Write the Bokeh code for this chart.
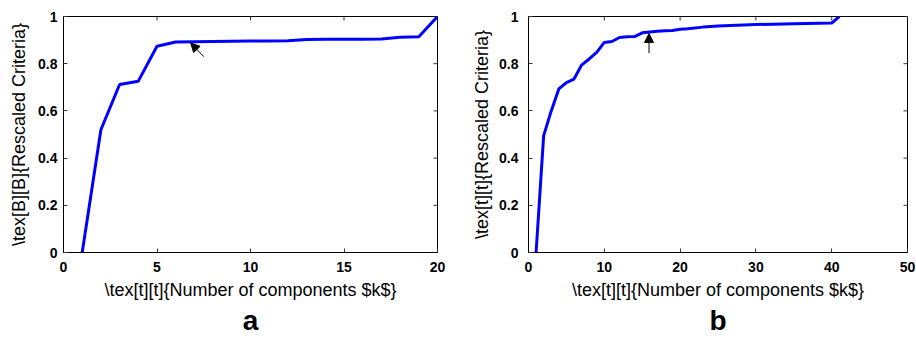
from bokeh.plotting import figure
from bokeh.layouts import row
from bokeh.models import (Range1d, FixedTicker, CustomJSTickFormatter,
                          Arrow, NormalHead, Title)
from bokeh.embed import file_html
from bokeh.resources import INLINE

# ---- data ----
k_a = list(range(1, 21))
crit_a = [0.0, 0.52, 0.712, 0.726, 0.874, 0.892, 0.893, 0.894, 0.895, 0.896,
          0.896, 0.897, 0.903, 0.904, 0.904, 0.904, 0.905, 0.912, 0.914, 1.0]

k_b = [1, 2, 3, 4, 5, 6, 7, 8, 9, 10, 11, 12, 13, 14, 15, 16, 17, 18, 19, 20,
       21, 23, 25, 30, 35, 40, 41]
crit_b = [0.0, 0.495, 0.60, 0.693, 0.72, 0.735, 0.794, 0.82, 0.848, 0.89, 0.894,
          0.911, 0.914, 0.915, 0.931, 0.934, 0.937, 0.94, 0.941, 0.946, 0.948,
          0.955, 0.96, 0.966, 0.969, 0.972, 1.0]

xticks_a = [0, 5, 10, 15, 20]
xticks_b = [0, 10, 20, 30, 40, 50]
yticks = [0, 0.2, 0.4, 0.6, 0.8, 1]

arrow_a = dict(x_start=7.5, y_start=0.83, x_end=6.8, y_end=0.888)
arrow_b = dict(x_start=15.9, y_start=0.845, x_end=15.9, y_end=0.928)

ylabel_a = r"\tex[B][B]{Rescaled Criteria}"
ylabel_b = r"\tex[t][t]{Rescaled Criteria}"
xlabel = r"\tex[t][t]{Number of components $k$}"
caption_a = "a"
caption_b = "b"

FONT = "Liberation Sans"
fmt_code = "return String(tick)"
TICK_PX = 4
HEIGHT = 338


def make_panel(xs, ys, xmax, xticks, ylabel, caption, arrow, width, mb_left,
               mb_right, mb_bottom, ylab_standoff, ytick_standoff, cap_offset):
    p = figure(width=width, height=HEIGHT, output_backend="svg", toolbar_location=None,
               x_range=Range1d(0, xmax), y_range=Range1d(0, 1),
               min_border_left=mb_left, min_border_right=mb_right,
               min_border_top=16, min_border_bottom=mb_bottom,
               background_fill_color="white", border_fill_color="white")
    p.grid.visible = False
    p.outline_line_color = "black"
    p.outline_line_width = 1

    for ax, ticks in ((p.xaxis[0], xticks), (p.yaxis[0], yticks)):
        ax.ticker = FixedTicker(ticks=ticks)
        ax.formatter = CustomJSTickFormatter(code=fmt_code)
        ax.major_tick_in = TICK_PX
        ax.major_tick_out = 0
        ax.minor_tick_line_color = None
        ax.axis_line_color = "black"
        ax.major_tick_line_color = "#333333"
        ax.major_label_text_font = FONT
        ax.major_label_text_font_style = "bold"
        ax.major_label_text_font_size = "14px"
        ax.major_label_text_color = "black"
        ax.axis_label_text_font = FONT
        ax.axis_label_text_font_style = "normal"
        ax.axis_label_text_font_size = "18px"
        ax.axis_label_text_color = "black"

    p.xaxis[0].axis_label = xlabel
    p.xaxis[0].major_label_standoff = 9
    p.xaxis[0].axis_label_standoff = 5
    p.yaxis[0].axis_label = ylabel
    p.yaxis[0].major_label_standoff = ytick_standoff
    p.yaxis[0].axis_label_standoff = ylab_standoff

    # mirrored inward ticks on top and right edges (box on)
    frame_w = width - mb_left - mb_right
    frame_h = HEIGHT - 16 - mb_bottom
    dy = TICK_PX / frame_h
    dx = TICK_PX / frame_w * xmax
    p.segment(x0=xticks, x1=xticks, y0=[1] * len(xticks), y1=[1 - dy] * len(xticks),
              line_color="#333333", line_width=1)
    p.segment(x0=[xmax] * len(yticks), x1=[xmax - dx] * len(yticks), y0=yticks,
              y1=yticks, line_color="#333333", line_width=1)

    p.line(xs, ys, line_color="#0000FF", line_width=3)

    p.add_layout(Arrow(end=NormalHead(size=9, fill_color="black", line_color="black",
                                      line_width=1),
                       line_color="black", line_width=1, **arrow))

    p.add_layout(Title(text=caption, align="center", text_font=FONT,
                       text_font_style="bold", text_font_size="28px",
                       text_color="black", standoff=0, offset=cap_offset), "below")
    return p


pa = make_panel(k_a, crit_a, 20, xticks_a, ylabel_a, caption_a, arrow_a,
                width=458, mb_left=63, mb_right=21, mb_bottom=84,
                ylab_standoff=6, ytick_standoff=6, cap_offset=0)
pb = make_panel(k_b, crit_b, 50, xticks_b, ylabel_b, caption_b, arrow_b,
                width=458, mb_left=70, mb_right=9, mb_bottom=86,
                ylab_standoff=4, ytick_standoff=10, cap_offset=8)

layout = row(pa, pb, spacing=0)
open("out.html", "w").write(file_html(layout, INLINE))
